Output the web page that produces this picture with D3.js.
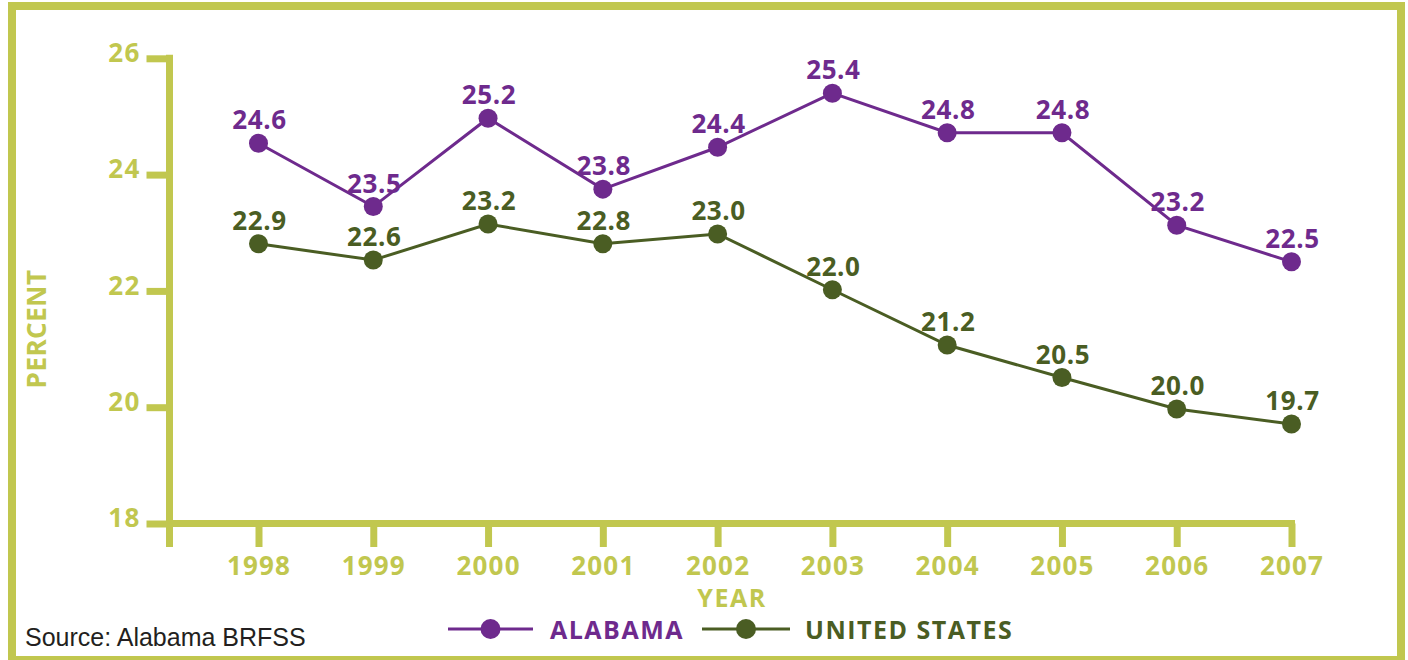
<!DOCTYPE html>
<html>
<head>
<meta charset="utf-8">
<script src="https://cdn.jsdelivr.net/npm/d3@7/dist/d3.min.js"></script>
<style>
  html, body { margin: 0; padding: 0; background: #ffffff; }
  svg { display: block; }
</style>
</head>
<body>
<svg id="chart" width="1408" height="660"></svg>
<script>
// ---------------- DATA ----------------
const years = [1998, 1999, 2000, 2001, 2002, 2003, 2004, 2005, 2006, 2007];
// values as plotted by the markers
const alabamaValues = [24.54, 23.45, 24.97, 23.75, 24.47, 25.40, 24.72, 24.72, 23.13, 22.50];
const usValues      = [22.81, 22.53, 23.15, 22.81, 22.98, 22.02, 21.07, 20.51, 19.97, 19.71];
// labels as printed above the markers
const alabamaLabels = ["24.6", "23.5", "25.2", "23.8", "24.4", "25.4", "24.8", "24.8", "23.2", "22.5"];
const usLabels      = ["22.9", "22.6", "23.2", "22.8", "23.0", "22.0", "21.2", "20.5", "20.0", "19.7"];
const yTicks = [18, 20, 22, 24, 26];
const seriesNames = ["ALABAMA", "UNITED STATES"];

// ---------------- STYLE ----------------
const LIME = "#c1c74f";
const PURPLE = "#6e2a8d";
const GREEN = "#4a5d23";
const FONT = "'Open Sans', 'DejaVu Sans', sans-serif";

const svg = d3.select("#chart");

// outer frame
svg.append("rect")
  .attr("x", 12).attr("y", 6).attr("width", 1389).attr("height", 654)
  .attr("fill", "none").attr("stroke", LIME).attr("stroke-width", 8);

const y = d3.scaleLinear().domain([18, 26]).range([523.5, 58.3]);
const x = d3.scalePoint().domain(years).range([258.5, 1291.5]);

const axisX0 = 169.5;

// Y axis
const yAxis = svg.append("g").attr("transform", `translate(${axisX0},0)`)
  .call(d3.axisLeft(y).tickValues(yTicks).tickSize(23).tickPadding(0).tickFormat(d3.format("d")));
yAxis.select(".domain").remove();
yAxis.selectAll(".tick line").attr("stroke", LIME).attr("stroke-width", 7);
yAxis.selectAll(".tick text")
  .attr("x", -29).attr("dy", "0.12em")
  .attr("fill", LIME).attr("font-family", FONT).attr("font-weight", 700)
  .attr("font-size", 26).attr("letter-spacing", 1.2).attr("text-anchor", "end");

// X axis
const xAxis = svg.append("g").attr("transform", `translate(0,${y(18)})`)
  .call(d3.axisBottom(x).tickSize(23.5).tickPadding(0).tickFormat(d3.format("d")));
xAxis.select(".domain").remove();
xAxis.selectAll(".tick line").attr("stroke", LIME).attr("stroke-width", 7);
xAxis.selectAll(".tick text")
  .attr("y", 51.5).attr("dy", 0)
  .attr("fill", LIME).attr("font-family", FONT).attr("font-weight", 700)
  .attr("font-size", 26).attr("letter-spacing", 1.2).attr("text-anchor", "middle");

// axis lines
const xEnd = x(years[years.length - 1]) + 3.5;
svg.append("line")
  .attr("x1", axisX0).attr("x2", axisX0)
  .attr("y1", y(26) - 3.5).attr("y2", y(18) + 23.5)
  .attr("stroke", LIME).attr("stroke-width", 7);
svg.append("line")
  .attr("x1", axisX0 - 3.5).attr("x2", xEnd)
  .attr("y1", y(18)).attr("y2", y(18))
  .attr("stroke", LIME).attr("stroke-width", 7);

// axis titles
svg.append("text")
  .attr("x", 732).attr("y", 607)
  .attr("text-anchor", "middle")
  .attr("fill", LIME).attr("font-family", FONT).attr("font-weight", 700)
  .attr("font-size", 25).attr("letter-spacing", 1.5)
  .text("YEAR");
svg.append("text")
  .attr("transform", "translate(46,329) rotate(-90)")
  .attr("text-anchor", "middle")
  .attr("fill", LIME).attr("font-family", FONT).attr("font-weight", 700)
  .attr("font-size", 26).attr("letter-spacing", 0.5)
  .text("PERCENT");

// series
const series = [
  { name: seriesNames[0], values: alabamaValues, labels: alabamaLabels, color: PURPLE },
  { name: seriesNames[1], values: usValues, labels: usLabels, color: GREEN }
];

const line = d3.line().x((d, i) => x(years[i])).y(d => y(d));

series.forEach(s => {
  const g = svg.append("g");
  g.append("path")
    .attr("d", line(s.values))
    .attr("fill", "none").attr("stroke", s.color).attr("stroke-width", 3);
  g.selectAll("circle").data(s.values).join("circle")
    .attr("cx", (d, i) => x(years[i])).attr("cy", d => y(d))
    .attr("r", 9.5).attr("fill", s.color);
  g.selectAll("text").data(s.values).join("text")
    .attr("x", (d, i) => x(years[i]) + 1).attr("y", d => y(d) - 14)
    .attr("text-anchor", "middle")
    .attr("fill", s.color).attr("font-family", FONT).attr("font-weight", 700)
    .attr("font-size", 26).attr("letter-spacing", 0.6)
    .text((d, i) => s.labels[i]);
});

// legend
const legendItems = [
  { name: seriesNames[0], color: PURPLE, x1: 448, x2: 533, tx: 550 },
  { name: seriesNames[1], color: GREEN, x1: 702, x2: 790, tx: 805 }
];
const ly = 629;
legendItems.forEach(it => {
  svg.append("line").attr("x1", it.x1).attr("x2", it.x2).attr("y1", ly).attr("y2", ly)
    .attr("stroke", it.color).attr("stroke-width", 3);
  svg.append("circle").attr("cx", (it.x1 + it.x2) / 2).attr("cy", ly).attr("r", 10).attr("fill", it.color);
  svg.append("text").attr("x", it.tx).attr("y", ly + 10)
    .attr("fill", it.color).attr("font-family", FONT).attr("font-weight", 700)
    .attr("font-size", 25).attr("letter-spacing", 1.5)
    .text(it.name);
});

// source
svg.append("text")
  .attr("x", 25).attr("y", 646)
  .attr("fill", "#231f20").attr("font-family", "'Liberation Sans', Arial, sans-serif")
  .attr("font-size", 25)
  .text("Source: Alabama BRFSS");
</script>
</body>
</html>
